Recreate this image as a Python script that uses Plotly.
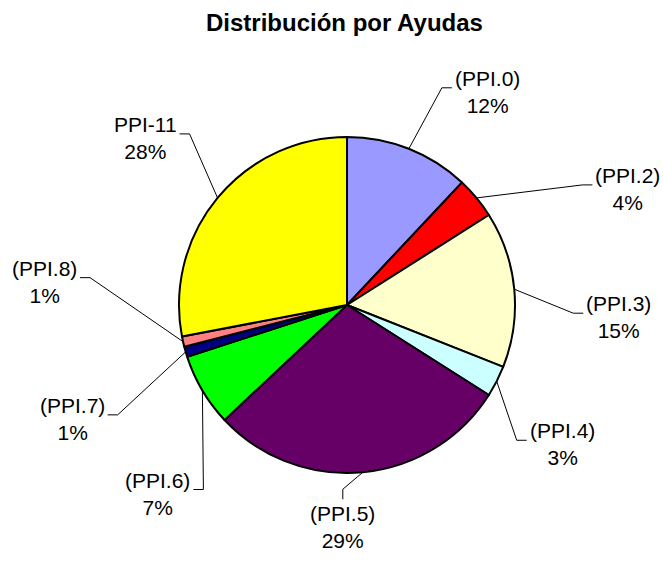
import math
import plotly.graph_objects as go

# ---- data ----
categories = ["(PPI.0)", "(PPI.2)", "(PPI.3)", "(PPI.4)", "(PPI.5)",
              "(PPI.6)", "(PPI.7)", "(PPI.8)", "PPI-11"]
values = [12, 4, 15, 3, 29, 7, 1, 1, 28]
colors = ["#9999FF", "#FF0000", "#FFFFCC", "#CCFFFF", "#660066",
          "#00FF00", "#000080", "#FF8080", "#FFFF00"]
title_text = "Distribución por Ayudas"

# ---- layout (label placement relative to slice edge, in pixels) ----
label_offsets = [(43, -61), (116, -13), (69, 24), (30, 59), (-20, 27),
                 (-9, 99), (-78, 63), (-103, -64), (-38, -64)]
label_sides = ["r", "r", "r", "r", "b", "l", "l", "l", "l"]

W, H = 663, 563
CX, CY, R = 347, 305, 168
FONT = "Liberation Sans, Arial, sans-serif"


def px(x):
    return x / W


def py(y):
    return 1 - y / H


fig = go.Figure()
fig.add_trace(go.Pie(
    labels=categories, values=values, sort=False, direction="clockwise",
    rotation=0, textinfo="none", hoverinfo="label+percent",
    marker=dict(colors=colors, line=dict(color="black", width=2)),
    showlegend=False,
    domain=dict(x=[px(CX - R), px(CX + R)], y=[py(CY + R), py(CY - R)]),
))

total = sum(values)
cum = 0.0
shapes = []
annotations = []
for name, v, (ox, oy), side in zip(categories, values, label_offsets, label_sides):
    mid = (cum + v / 2) / total * 2 * math.pi
    cum += v
    ax = CX + R * math.sin(mid)
    ay = CY - R * math.cos(mid)
    tx, ty = ax + ox, ay + oy
    if side == "r":
        ex, ey = tx - 10, ty
        ann = dict(x=px(tx + 1), y=py(ty + 4), xanchor="left", yanchor="middle")
    elif side == "l":
        ex, ey = tx + 10, ty
        ann = dict(x=px(tx - 1), y=py(ty + 4), xanchor="right", yanchor="middle")
    else:
        ex, ey = tx, ty - 10
        ann = dict(x=px(tx), y=py(ty + 1), xanchor="center", yanchor="top")
    shapes.append(dict(
        type="path", xref="paper", yref="paper",
        path=f"M {px(ax)} {py(ay)} L {px(ex)} {py(ey)} L {px(tx)} {py(ty)}",
        line=dict(color="black", width=1)))
    pct = round(v / total * 100)
    ann.update(text=f"{name}<br>{pct}%", showarrow=False, xref="paper",
               yref="paper", align="center",
               font=dict(family=FONT, size=21, color="black"))
    annotations.append(ann)

annotations.append(dict(
    text=f"<b>{title_text}</b>", x=px(344), y=py(23), xref="paper",
    yref="paper", xanchor="center", yanchor="middle", showarrow=False,
    font=dict(family=FONT, size=24, color="black")))

fig.update_layout(
    width=W, height=H, margin=dict(l=0, r=0, t=0, b=0),
    paper_bgcolor="white", plot_bgcolor="white",
    shapes=shapes, annotations=annotations,
)

fig.write_html("out.html",
               config={"displayModeBar": False},
               post_script="document.body.style.margin='0';"
                           "document.body.style.overflow='hidden';")
